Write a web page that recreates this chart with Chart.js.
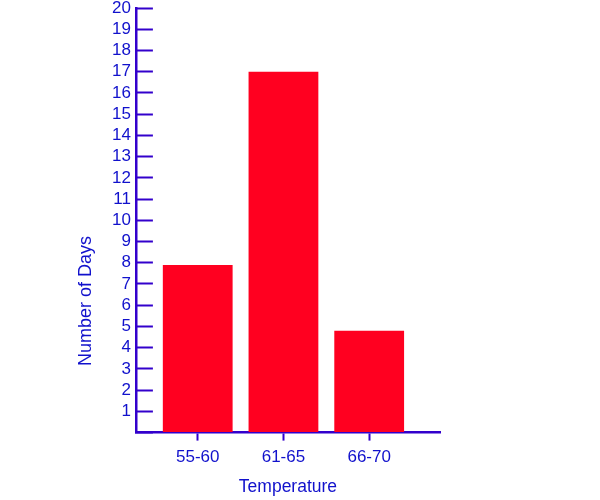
<!DOCTYPE html>
<html>
<head>
<meta charset="utf-8">
<script src="https://cdn.jsdelivr.net/npm/chart.js@4"></script>
<style>
  body { margin: 0; background: #fff; }
  #wrap { width: 600px; height: 500px; }
</style>
</head>
<body>
<div id="wrap"><canvas id="bar-chart" width="600" height="500"></canvas></div>
<script>
// data
var categories = ["55-60", "61-65", "66-70"];
var days = [7.9, 17, 4.8];
var yMax = 20;
var xTitle = "Temperature";
var yTitle = "Number of Days";

var blue = "#1111cc";
var axisBlue = "#3300cc";
var red = "#ff0020";

// y title sits lower than the middle of the axis, so draw it ourselves
var yTitlePlugin = {
  id: 'yTitle',
  afterDraw: function (chart) {
    var a = chart.chartArea;
    var ctx = chart.ctx;
    ctx.save();
    ctx.translate(a.left - 50, a.top + (a.bottom - a.top) * 0.69);
    ctx.rotate(-Math.PI / 2);
    ctx.font = "18px 'Liberation Sans', Arial, sans-serif";
    ctx.fillStyle = blue;
    ctx.textAlign = "center";
    ctx.textBaseline = "middle";
    ctx.fillText(yTitle, 0, 0);
    ctx.restore();
  }
};

new Chart(document.getElementById("bar-chart"), {
  type: 'bar',
  data: {
    datasets: [
      {
        label: "Days",
        backgroundColor: red,
        borderWidth: 0,
        barPercentage: 0.814,
        categoryPercentage: 1,
        data: days.map(function (v, i) { return { x: i, y: v }; })
      }
    ]
  },
  options: {
    responsive: false,
    animation: false,
    layout: { padding: { left: 90, right: 160, top: 0, bottom: 2 } },
    plugins: {
      legend: { display: false },
      tooltip: { enabled: false }
    },
    scales: {
      x: {
        type: 'linear',
        offset: false,
        min: -0.721,
        max: 2.826,
        afterBuildTicks: function (scale) {
          scale.ticks = categories.map(function (c, i) { return { value: i }; });
        },
        ticks: {
          color: blue,
          padding: 7,
          maxRotation: 0,
          font: { family: "'Liberation Sans', Arial, sans-serif", size: 17 },
          callback: function (v) { return categories[v]; }
        },
        grid: {
          offset: false,
          drawOnChartArea: false,
          tickLength: 8,
          tickColor: axisBlue,
          tickWidth: 2
        },
        border: { display: true, color: axisBlue, width: 2.5 },
        title: {
          display: true,
          text: xTitle,
          color: blue,
          padding: { top: 2, bottom: 0 },
          font: { family: "'Liberation Sans', Arial, sans-serif", size: 17.5 }
        }
      },
      y: {
        min: 0,
        max: yMax,
        afterFit: function (scale) {
          // tick padding is only there to push labels past the inner ticks
          scale.paddingTop = 8;
          scale.paddingBottom = 7;
        },
        ticks: {
          stepSize: 1,
          color: blue,
          padding: 22,
          font: { family: "'Liberation Sans', Arial, sans-serif", size: 17, lineHeight: 1 },
          callback: function (v) { return v === 0 ? '' : v; }
        },
        grid: {
          drawOnChartArea: false,
          tickLength: -17,
          tickColor: axisBlue,
          tickWidth: 2
        },
        border: { display: true, color: axisBlue, width: 2.5 }
      }
    }
  },
  plugins: [yTitlePlugin]
});
</script>
</body>
</html>
